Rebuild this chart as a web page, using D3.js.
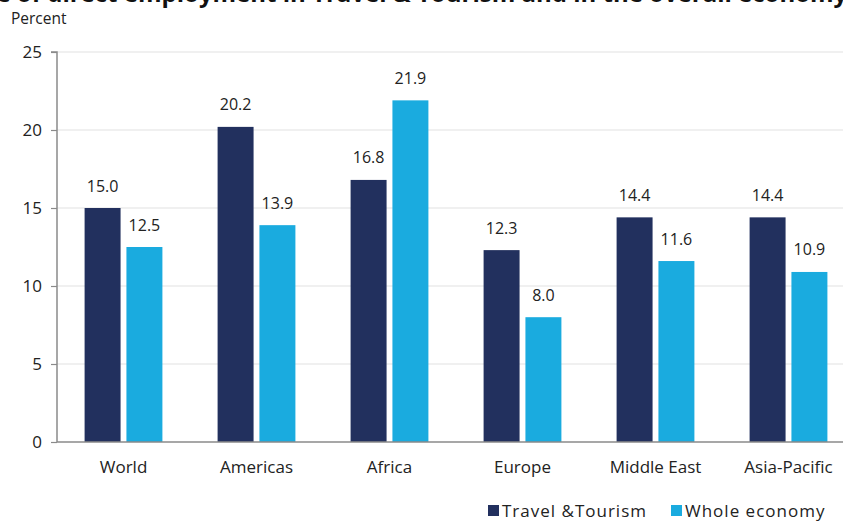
<!DOCTYPE html>
<html><head><meta charset="utf-8">
<script src="https://cdn.jsdelivr.net/npm/d3@7"></script>
<style>body{margin:0;background:#fff}svg{display:block;font-family:"Open Sans","Noto Sans",sans-serif}</style>
</head><body>
<script>
const categories = ["World","Americas","Africa","Europe","Middle East","Asia-Pacific"];
const travelTourism = [15.0,20.2,16.8,12.3,14.4,14.4];
const wholeEconomy = [12.5,13.9,21.9,8.0,11.6,10.9];
const seriesNames = ["Travel &Tourism","Whole economy"];
const yTicks = [0,5,10,15,20,25];
const colors = ["#22305e","#1aabdf"];

const W=843,H=522;
const FF='"Open Sans","Noto Sans",sans-serif';
const svg=d3.select("body").append("svg").attr("width",W).attr("height",H);
const x=d3.scaleBand().domain(categories).range([57,855]).paddingInner(0.415).paddingOuter(0.2075);
const x1=d3.scaleBand().domain([0,1]).range([0,x.bandwidth()]).paddingInner(0.14);
const y=d3.scaleLinear().domain([0,25]).range([442,52]);

// title (cut off)
svg.append("text").attr("x",-58).attr("y",2).attr("font-weight","bold").attr("font-size",24)
  .attr("fill","#111").text("Share of direct employment in Travel & Tourism and in the overall economy");
svg.append("text").attr("x",11).attr("y",24).attr("font-size",15.5).attr("fill","#222").text("Percent");

// grid
svg.append("g").selectAll("line").data(yTicks.filter(d=>d>0)).join("line")
  .attr("x1",57).attr("x2",W).attr("y1",d=>y(d)).attr("y2",d=>y(d))
  .attr("stroke","#e2e2e2").attr("stroke-width",1.2);

// y axis
const ya=svg.append("g").attr("transform","translate(57,0)")
  .call(d3.axisLeft(y).tickValues(yTicks).tickSize(6).tickPadding(9).tickFormat(d3.format("d")));
ya.attr("font-family",FF);
ya.select(".domain").attr("stroke","#8a8a8a").attr("stroke-width",1.5).attr("d","M-6,"+y(25)+"H0V"+y(0));
ya.selectAll(".tick line").attr("stroke","#8a8a8a").attr("stroke-width",1.2);
ya.selectAll(".tick text").attr("font-size",17).attr("fill","#222");

// bars
const data=categories.map((c,i)=>({c,v:[travelTourism[i],wholeEconomy[i]]}));
const g=svg.append("g").selectAll("g").data(data).join("g").attr("transform",d=>`translate(${x(d.c)},0)`);
g.selectAll("rect").data(d=>d.v.map((v,k)=>({v,k}))).join("rect")
  .attr("x",d=>x1(d.k)).attr("width",x1.bandwidth())
  .attr("y",d=>y(d.v)).attr("height",d=>y(0)-y(d.v)).attr("fill",d=>colors[d.k]);
g.selectAll("text").data(d=>d.v.map((v,k)=>({v,k}))).join("text")
  .attr("x",d=>x1(d.k)+x1.bandwidth()/2).attr("y",d=>y(d.v)-16.5)
  .attr("text-anchor","middle").attr("font-size",16).attr("fill","#222").text(d=>d3.format(".1f")(d.v));

// x axis
const xa=svg.append("g").attr("transform",`translate(0,${y(0)})`).call(d3.axisBottom(x).tickSize(0).tickPadding(19));
xa.attr("font-family",FF);
xa.select(".domain").attr("stroke","#8a8a8a").attr("stroke-width",1.5).attr("d","M57,0H"+W);
xa.selectAll(".tick text").attr("font-size",17).attr("fill","#222");

// legend
const leg=[{x:488,t:seriesNames[0],c:colors[0]},{x:671,t:seriesNames[1],c:colors[1]}];
const lg=svg.append("g").selectAll("g").data(leg).join("g");
lg.append("rect").attr("x",d=>d.x).attr("y",505).attr("width",11).attr("height",11).attr("fill",d=>d.c);
lg.append("text").attr("x",d=>d.x+14).attr("y",517).attr("font-size",17).attr("letter-spacing",1).attr("fill","#222").text(d=>d.t);
</script>
</body></html>
